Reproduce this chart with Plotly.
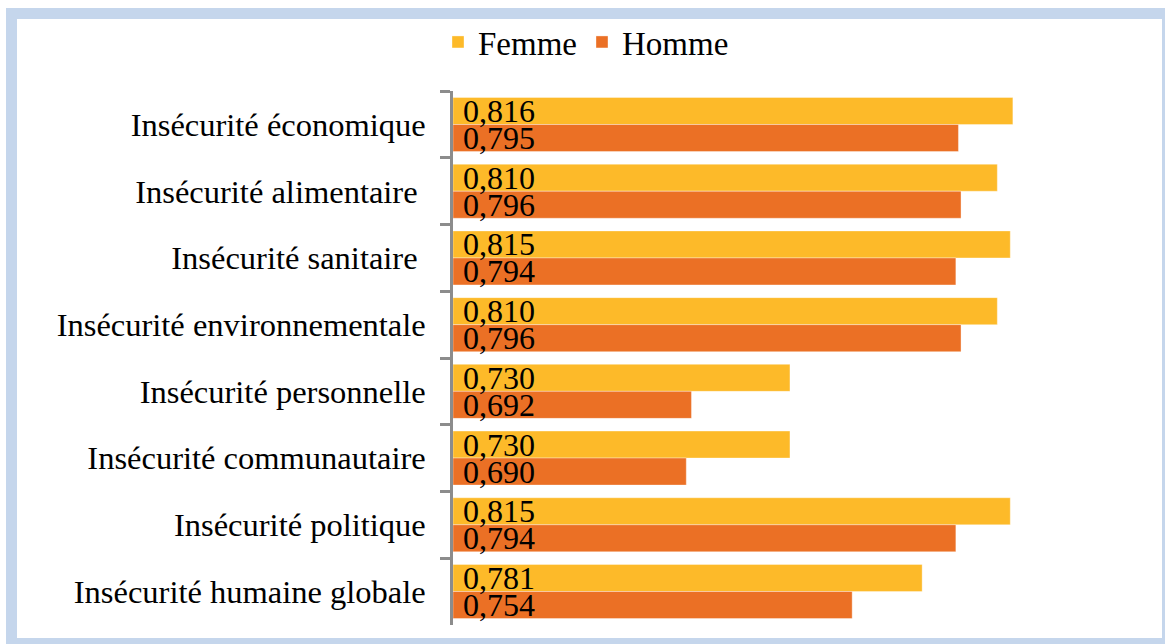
import plotly.graph_objects as go

# Catégories (de haut en bas) et indices par sexe
categories = [
    "Insécurité économique",
    "Insécurité alimentaire\u00a0",
    "Insécurité sanitaire\u00a0",
    "Insécurité environnementale",
    "Insécurité personnelle",
    "Insécurité communautaire",
    "Insécurité politique",
    "Insécurité humaine globale",
]
femme = [0.816, 0.810, 0.815, 0.810, 0.730, 0.730, 0.815, 0.781]
homme = [0.795, 0.796, 0.794, 0.796, 0.692, 0.690, 0.794, 0.754]

# Minimum de l'axe des valeurs : les barres partent de là
AXIS_MIN, AXIS_MAX = 0.6, 0.85
BARGAP = 0.19

W, H = 1165, 644
ML, MR, MT, MB = 453, 64, 91, 19
FONT = "Liberation Serif"


def px_x(p):
    return (p - ML) / (W - ML - MR)


def px_y(p):
    return (H - MB - p) / (H - MT - MB)


def fmt(v):
    return f"{v:.3f}".replace(".", ",")


series = [("Femme", femme, "#FDBA29"), ("Homme", homme, "#EB7025")]

fig = go.Figure()
for name, vals, col in series:
    fig.add_trace(go.Bar(
        name=name, y=categories,
        base=AXIS_MIN, x=[v - AXIS_MIN for v in vals], customdata=vals,
        orientation="h",
        marker=dict(color=col, line=dict(color="rgba(255,255,255,0.6)", width=0.6)),
        hovertemplate="%{y}<br>" + name + " : %{customdata:.3f}<extra></extra>",
    ))

# Étiquettes de valeur au pied de chaque barre (décalées d'une demi-barre)
band_px = (H - MT - MB) / len(categories)
half_offset = band_px * (1 - BARGAP) / 4
annotations = []
for k, (name, vals, _) in enumerate(series):
    shift = half_offset if k == 0 else -half_offset
    for cat, v in zip(categories, vals):
        annotations.append(dict(
            x=AXIS_MIN, y=cat, xref="x", yref="y", text=fmt(v),
            showarrow=False, xanchor="left", yanchor="middle",
            xshift=8, yshift=shift,
            font=dict(family=FONT, size=32, color="black"),
        ))

fig.update_layout(
    width=W, height=H,
    margin=dict(l=ML, r=MR, t=MT, b=MB),
    paper_bgcolor="white", plot_bgcolor="white",
    barmode="group", bargap=BARGAP, bargroupgap=0,
    separators=",.",
    font=dict(family=FONT, color="black"),
    legend=dict(
        orientation="h", xref="container", yref="container",
        x=0.503, xanchor="center", y=1 - 42 / H, yanchor="middle",
        font=dict(family=FONT, size=33, color="black"),
        bgcolor="rgba(0,0,0,0)",
        itemwidth=30, traceorder="normal",
    ),
    xaxis=dict(range=[AXIS_MIN, AXIS_MAX], visible=False, showgrid=False, zeroline=False),
    yaxis=dict(
        type="category", autorange="reversed",
        tickson="boundaries", ticks="outside", ticklen=10, tickwidth=2.5,
        tickcolor="#8C8C8C", showline=True, linecolor="#8C8C8C", linewidth=2.5,
        tickfont=dict(family=FONT, size=32.5, color="black"),
        ticklabelstandoff=18, showgrid=False,
    ),
    annotations=annotations,
    shapes=[
        dict(type="rect", xref="paper", yref="paper", layer="below",
             x0=px_x(6), x1=px_x(1175), y0=px_y(8), y1=px_y(654),
             fillcolor="#C5D6EC", line=dict(width=0)),
        dict(type="rect", xref="paper", yref="paper", layer="below",
             x0=px_x(17), x1=px_x(1162), y0=px_y(19), y1=px_y(638),
             fillcolor="white", line=dict(width=0)),
    ],
)

fig.write_html("out.html")
